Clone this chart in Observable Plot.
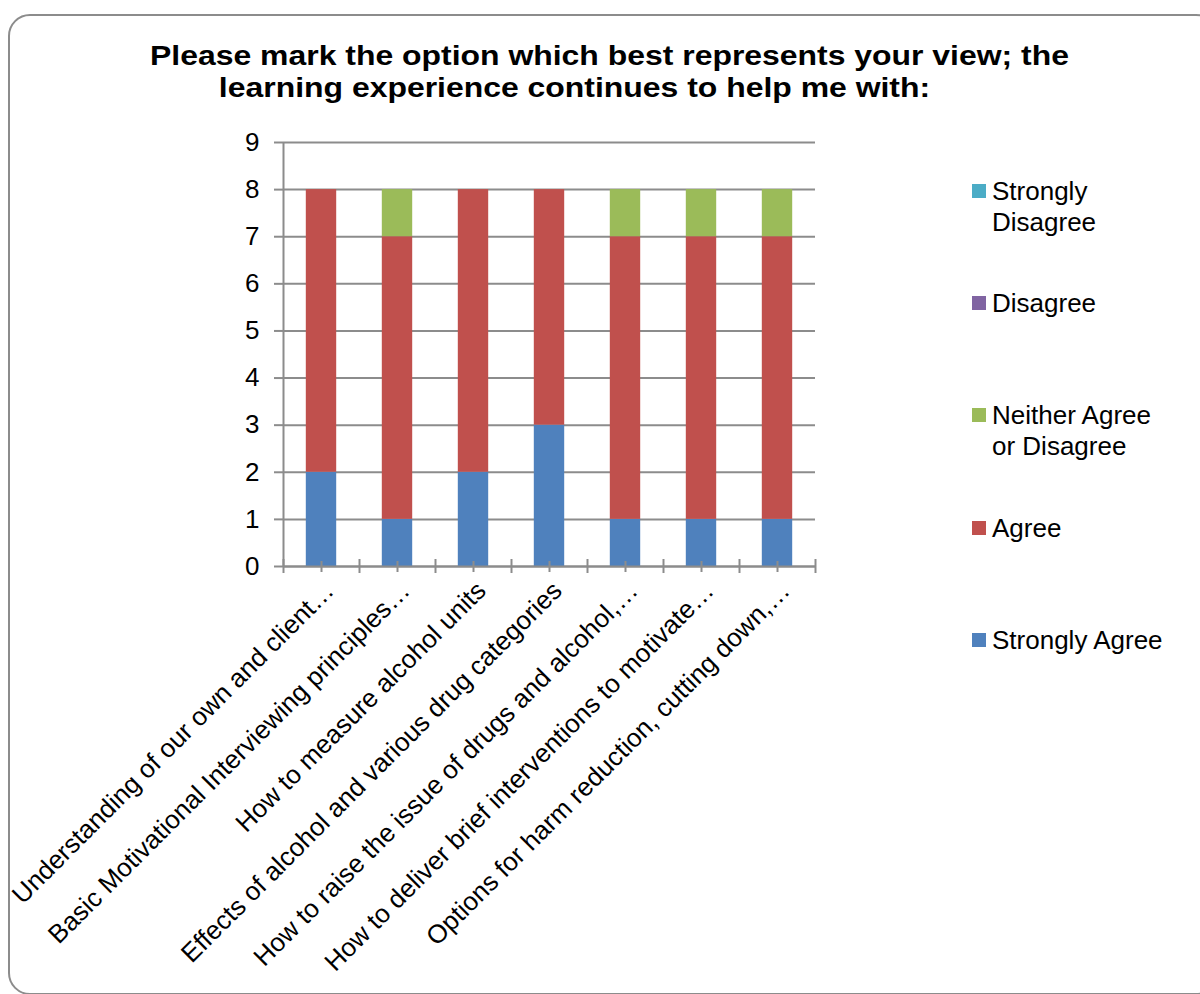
<!DOCTYPE html>
<html><head><meta charset="utf-8">
<script src="https://cdn.jsdelivr.net/npm/d3@7"></script>
<script src="https://cdn.jsdelivr.net/npm/@observablehq/plot@0.6"></script>
<style>
html,body{margin:0;padding:0;background:#fff;}
#wrap{position:relative;width:1200px;height:994px;overflow:hidden;font-family:Arial,"Liberation Sans",sans-serif;color:#000;}
#frame{position:absolute;left:8px;top:14px;width:1210px;height:981px;border:2px solid #8c8c8c;border-radius:22px;box-sizing:border-box;}
#chart{position:absolute;left:0;top:0;}
.tline{position:absolute;left:0;font-weight:bold;font-size:28.5px;line-height:30px;text-align:center;white-space:nowrap;transform:scaleX(1.12);}
.leg{position:absolute;left:972px;font-size:26px;line-height:31px;white-space:nowrap;}
.leg .sw{position:absolute;left:0;top:8px;width:14px;height:14px;}
.leg .tx{position:absolute;left:20px;top:0;}
</style></head>
<body>
<div id="wrap">
  <div id="frame"></div>
  <div id="chart"></div>
  <div class="tline" id="t1" style="top:40px;width:1219px;transform-origin:609.5px 50%;"></div>
  <div class="tline" id="t2" style="top:72px;width:1149px;transform-origin:574.5px 50%;"></div>
  <div id="legend"></div>
</div>
<script>
// ---- data ----
const titleLines = ["Please mark the option which best represents your view; the", "learning experience continues to help me with:"];
const categories = [
  "Understanding of our own and client\u2026",
  "Basic Motivational Interviewing principles\u2026",
  "How to measure alcohol units",
  "Effects of alcohol and various drug categories",
  "How to raise the issue of drugs and alcohol,\u2026",
  "How to deliver brief interventions to motivate\u2026",
  "Options for harm reduction, cutting down,\u2026"
];
const seriesNames = ["Strongly Agree", "Agree", "Neither Agree or Disagree", "Disagree", "Strongly Disagree"];
const stronglyAgree    = [2, 1, 2, 3, 1, 1, 1];
const agree            = [6, 6, 6, 5, 6, 6, 6];
const neither          = [0, 1, 0, 0, 1, 1, 1];
const disagree         = [0, 0, 0, 0, 0, 0, 0];
const stronglyDisagree = [0, 0, 0, 0, 0, 0, 0];
const seriesColors = ["#4F81BD", "#C0504D", "#9BBB59", "#8064A2", "#4BACC6"];
const yTicks = [0, 1, 2, 3, 4, 5, 6, 7, 8, 9];
// legend as displayed (top to bottom) with text lines
const legendItems = [
  {name: "Strongly Disagree", lines: ["Strongly", "Disagree"]},
  {name: "Disagree", lines: ["Disagree"]},
  {name: "Neither Agree or Disagree", lines: ["Neither Agree", "or Disagree"]},
  {name: "Agree", lines: ["Agree"]},
  {name: "Strongly Agree", lines: ["Strongly Agree"]}
];

// ---- build stacked rows ----
const seriesValues = [stronglyAgree, agree, neither, disagree, stronglyDisagree];
const rows = [];
categories.forEach((c, i) => {
  let base = 0;
  seriesValues.forEach((vals, s) => {
    const v = vals[i];
    if (v > 0) rows.push({i, cat: c, series: seriesNames[s], y1: base, y2: base + v});
    base += v;
  });
});

const gray = "#8c8c8c";
const barInset = 0.3; // fraction of band left empty on each side
const centers = categories.map((c, i) => i + 0.5);
const bounds = d3.range(categories.length + 1);

const chart = Plot.plot({
  width: 1200, height: 994,
  marginLeft: 283, marginRight: 385, marginTop: 142, marginBottom: 428,
  style: {fontFamily: "Arial, 'Liberation Sans', sans-serif", background: "transparent", overflow: "visible", color: "#000"},
  x: {type: "linear", domain: [0, categories.length], axis: null},
  y: {domain: [0, 9], axis: null},
  color: {domain: seriesNames, range: seriesColors},
  marks: [
    Plot.ruleY(yTicks, {stroke: gray, strokeWidth: 2}),
    Plot.rectY(rows, {x1: d => d.i + barInset, x2: d => d.i + 1 - barInset, y1: "y1", y2: "y2", fill: "series"}),
    Plot.ruleY([0], {stroke: gray, strokeWidth: 2}),
    Plot.ruleX([0], {stroke: gray, strokeWidth: 2}),
    Plot.axisY({ticks: yTicks, tickSize: 9, tickPadding: 15, fontSize: 26, stroke: gray, strokeWidth: 2, fill: "#000", tickFormat: d => String(d), label: null}),
    Plot.ruleX(bounds, {y1: 0, y2: 0, insetTop: -7, insetBottom: -7, stroke: gray, strokeWidth: 2}),
    Plot.ruleX(centers, {y1: 0, y2: 0, insetTop: -5, insetBottom: -6, stroke: gray, strokeWidth: 2}),
    Plot.text(categories, {x: (d, i) => i + 0.5, y: () => 0, text: d => d, rotate: -45, textAnchor: "end", lineAnchor: "middle", dx: 8, dy: 20, fontSize: 26, fill: "#000"})
  ]
});
document.getElementById("chart").appendChild(chart);

document.getElementById("t1").textContent = titleLines[0];
document.getElementById("t2").textContent = titleLines[1];

// legend
const legendCenters = [191, 303, 415, 528, 640];
const leg = document.getElementById("legend");
legendItems.forEach((it, k) => {
  const div = document.createElement("div");
  div.className = "leg";
  div.style.top = (legendCenters[k] - 15.5) + "px";
  const sw = document.createElement("div");
  sw.className = "sw";
  sw.style.background = seriesColors[seriesNames.indexOf(it.name)];
  const tx = document.createElement("div");
  tx.className = "tx";
  tx.innerHTML = it.lines.map(l => l.replace(/&/g, "&amp;")).join("<br>");
  div.appendChild(sw); div.appendChild(tx);
  leg.appendChild(div);
});
</script>
</body></html>
